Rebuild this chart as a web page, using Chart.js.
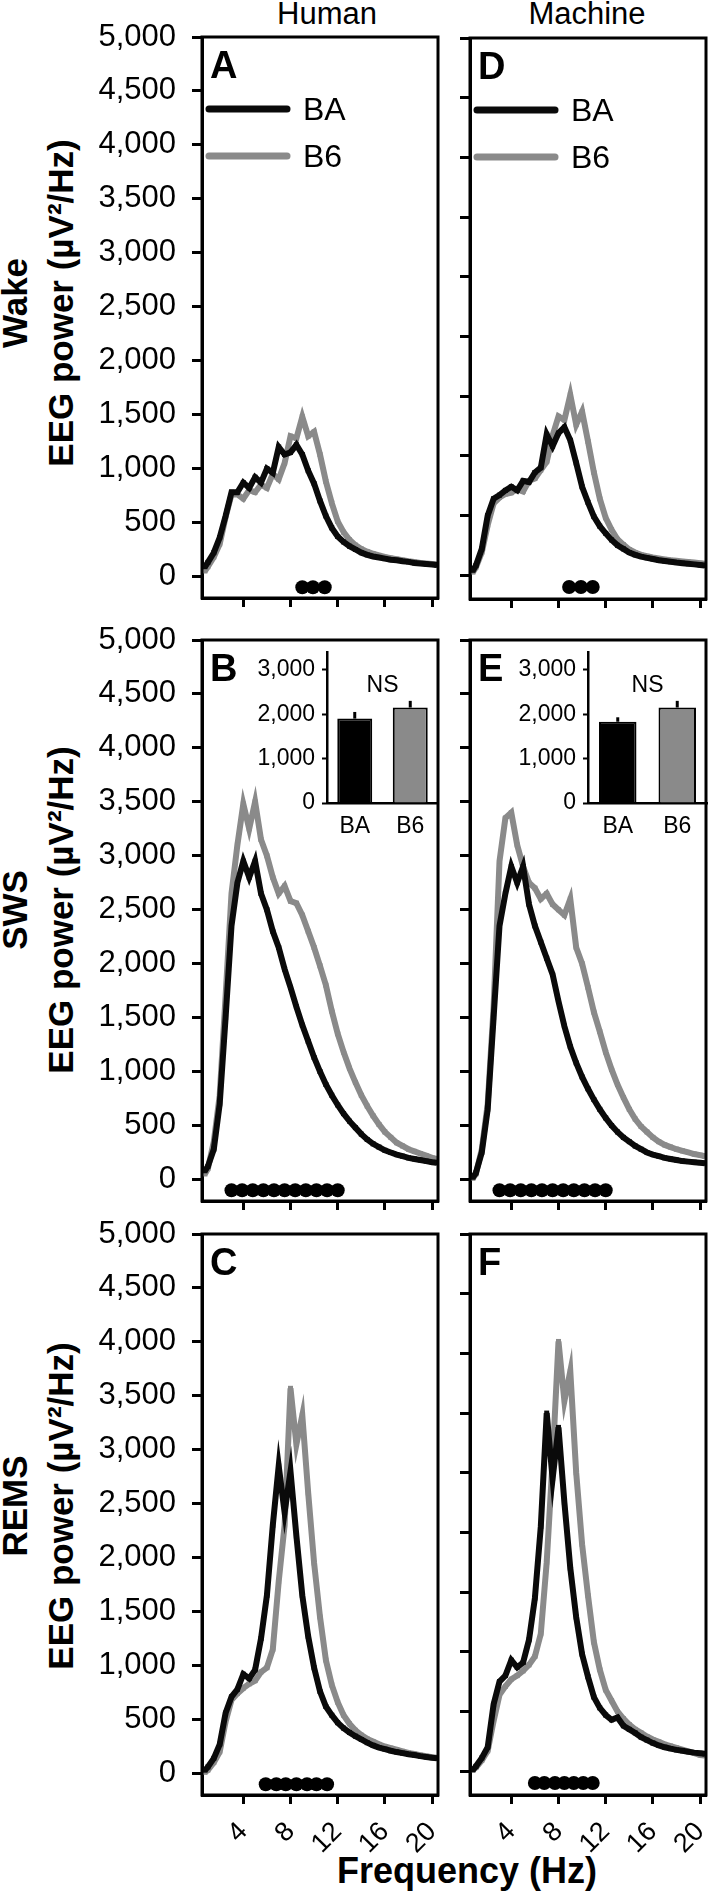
<!DOCTYPE html>
<html>
<head>
<meta charset="utf-8">
<title>EEG power spectra</title>
<script src="https://cdn.jsdelivr.net/npm/chart.js@4.4.1/dist/chart.umd.min.js"></script>
<style>
  html, body { margin: 0; padding: 0; background: #fff; }
  #fig { position: relative; width: 713px; height: 1895px; overflow: hidden; background: #fff;
         font-family: 'Liberation Sans', Arial, sans-serif; color: #000; }
  #fig canvas { position: absolute; }
  .txt { position: absolute; white-space: nowrap; line-height: 1; transform: translate(-50%, -50%); }
  .row { font-weight: bold; font-size: 35px; transform: translate(-50%, -50%) rotate(-90deg); }
</style>
</head>
<body>
<div id="fig">
  <div class="txt" style="left:327px; top:13px; font-size:31px;">Human</div>
  <div class="txt" style="left:587px; top:13px; font-size:31px;">Machine</div>
  <div class="txt row" style="left:14px; top:303px;">Wake</div>
  <div class="txt row" style="left:60px; top:303px;">EEG power (µV²/Hz)</div>
  <div class="txt row" style="left:14px; top:910px;">SWS</div>
  <div class="txt row" style="left:60px; top:910px;">EEG power (µV²/Hz)</div>
  <div class="txt row" style="left:14px; top:1506px;">REMS</div>
  <div class="txt row" style="left:60px; top:1506px;">EEG power (µV²/Hz)</div>
  <div class="txt" style="left:467px; top:1871px; font-size:36px; font-weight:bold;">Frequency (Hz)</div>
</div>
<script>
const FONT = "'Liberation Sans', Arial, sans-serif";
const BLACK = '#0a0a0a';
const GRAY = '#8a8a8a';

// frequency bins (Hz)
const freqs = [0.75, 1, 1.5, 2, 2.5, 3, 3.5, 4, 4.5, 5, 5.5, 6, 6.5, 7, 7.5, 8, 8.5, 9, 9.5, 10,
  10.5, 11, 11.5, 12, 12.5, 13, 13.5, 14, 14.5, 15, 15.5, 16, 16.5, 17, 17.5, 18, 18.5, 19, 19.5, 20, 20.4];

// Wake
const wakeHumanBA = [90, 130, 220, 360, 560, 780, 780, 870, 820, 920, 870, 1000, 960, 1200, 1130, 1150, 1220, 1130, 980, 860,
  700, 560, 450, 370, 320, 280, 250, 220, 200, 185, 175, 165, 155, 150, 140, 135, 125, 120, 115, 110, 105];
const wakeHumanB6 = [50, 90, 180, 300, 550, 760, 760, 720, 800, 780, 850, 820, 950, 900, 1050, 1300, 1280, 1480, 1300, 1340,
  1130, 880, 680, 510, 410, 340, 290, 255, 230, 210, 195, 180, 170, 160, 150, 140, 135, 125, 120, 115, 110];
const wakeMachineBA = [40, 80, 220, 500, 640, 670, 710, 740, 710, 790, 780, 860, 900, 1180, 1080, 1190, 1240, 1130, 940, 740,
  610, 490, 410, 350, 295, 250, 220, 190, 170, 155, 145, 135, 125, 118, 112, 105, 100, 95, 90, 85, 80];
const wakeMachineB6 = [25, 65, 190, 420, 600, 650, 680, 690, 720, 700, 790, 810, 880, 950, 1170, 1330, 1300, 1510, 1260, 1370,
  1120, 860, 640, 480, 380, 300, 255, 215, 190, 170, 158, 148, 140, 132, 125, 120, 115, 110, 105, 100, 95];

// SWS
const swsHumanBA = [80, 120, 280, 700, 1500, 2350, 2750, 2950, 2800, 2950, 2650, 2500, 2300, 2150, 1950, 1780, 1600, 1430, 1280, 1130,
  1000, 880, 780, 690, 610, 540, 480, 420, 370, 330, 300, 270, 250, 230, 215, 200, 190, 180, 170, 160, 155];
const swsHumanB6 = [50, 100, 350, 780, 1700, 2650, 3100, 3480, 3250, 3500, 3150, 3000, 2800, 2650, 2720, 2580, 2560, 2450, 2300, 2150,
  1980, 1800, 1560, 1350, 1180, 1030, 900, 780, 680, 590, 510, 440, 390, 340, 310, 280, 260, 240, 220, 200, 190];
const swsMachineBA = [20, 60, 250, 650, 1500, 2350, 2650, 2900, 2750, 2900, 2550, 2350, 2200, 2050, 1900, 1650, 1420, 1230, 1080, 950,
  840, 740, 650, 570, 500, 440, 390, 350, 310, 280, 250, 230, 215, 200, 190, 180, 170, 165, 160, 155, 150];
const swsMachineB6 = [10, 50, 280, 700, 1600, 2950, 3350, 3400, 3100, 2900, 2750, 2700, 2600, 2650, 2550, 2500, 2450, 2600, 2150, 2000,
  1780, 1550, 1370, 1180, 1020, 880, 760, 650, 560, 490, 440, 390, 350, 320, 300, 280, 265, 250, 235, 225, 215];

// REMS
const remsHumanBA = [30, 60, 140, 270, 560, 710, 780, 920, 880, 960, 1250, 1650, 2300, 2850, 2420, 2800, 2200, 1650, 1270, 980,
  760, 620, 540, 470, 420, 380, 345, 315, 285, 260, 240, 225, 210, 198, 188, 178, 170, 160, 152, 145, 140];
const remsHumanB6 = [10, 30, 100, 200, 480, 680, 740, 790, 830, 860, 940, 980, 1150, 1780, 2300, 3570, 3050, 3320, 2600, 1950,
  1450, 1050, 820, 660, 540, 460, 400, 355, 320, 295, 270, 250, 235, 220, 205, 190, 180, 170, 160, 150, 145];
const remsMachineBA = [10, 40, 110, 200, 560, 750, 800, 930, 870, 910, 1100, 1450, 2050, 3000, 2450, 2880, 2250, 1700, 1290, 980,
  790, 620, 530, 470, 430, 450, 380, 350, 320, 285, 260, 235, 215, 200, 188, 178, 170, 162, 155, 150, 145];
const remsMachineB6 = [10, 30, 90, 170, 420, 640, 710, 770, 800, 840, 890, 960, 1150, 1750, 2600, 3600, 3100, 3350, 2500, 1900,
  1470, 1080, 850, 680, 590, 500, 440, 390, 350, 320, 290, 265, 245, 225, 210, 195, 180, 165, 150, 135, 130];

// significant bins (Hz), drawn as dots below zero
const sigLevel = -100;
const wakeHumanSig = [9.0, 9.9, 10.9];
const wakeMachineSig = [8.9, 9.9, 10.9];
const swsHumanSig = [3.0, 3.9, 4.8, 5.7, 6.6, 7.5, 8.4, 9.3, 10.2, 11.1, 12.0];
const swsMachineSig = [3.0, 3.9, 4.8, 5.7, 6.6, 7.5, 8.4, 9.3, 10.2, 11.1, 12.0];
const remsHumanSig = [5.9, 6.8, 7.6, 8.5, 9.4, 10.2, 11.1];
const remsMachineSig = [6.0, 6.8, 7.7, 8.5, 9.3, 10.1, 10.9];

// insets: total SWS power
const strains = ['BA', 'B6'];
const swsHumanTotal = [1900, 2150];
const swsHumanTotalErr = [150, 150];
const swsMachineTotal = [1830, 2150];
const swsMachineTotalErr = [100, 150];

// tick labels
const powerTicks = [0, 500, 1000, 1500, 2000, 2500, 3000, 3500, 4000, 4500, 5000];
const machinePowerTicks = [0, 500, 1000, 1500, 2000, 2500, 3000, 3500, 4000, 4500];
const freqTicks = [4, 8, 12, 16, 20];
const insetTicks = [0, 1000, 2000, 3000];

const fig = document.getElementById('fig');

function addCanvas(x, y, w, h) {
  const cv = document.createElement('canvas');
  cv.width = w; cv.height = h;
  cv.style.left = x + 'px'; cv.style.top = y + 'px';
  fig.appendChild(cv);
  return cv;
}

// frame, panel letter and legend
const panelDecor = {
  id: 'panelDecor',
  afterDraw(chart, args, opts) {
    const { ctx, chartArea: a } = chart;
    ctx.save();
    ctx.strokeStyle = '#000';
    ctx.lineWidth = 3;
    ctx.strokeRect(a.left, a.top, a.right - a.left, a.bottom - a.top);
    ctx.fillStyle = '#000';
    ctx.textAlign = 'left';
    ctx.textBaseline = 'alphabetic';
    ctx.font = 'bold 38px ' + FONT;
    ctx.fillText(opts.letter, a.left + 8, a.top + 41);
    if (opts.legend) {
      chart.data.datasets.slice(0, 2).forEach((ds, i) => {
        const y = a.top + 72 + i * 47;
        ctx.strokeStyle = ds.borderColor;
        ctx.lineWidth = 7;
        ctx.lineCap = 'round';
        ctx.beginPath();
        ctx.moveTo(a.left + 7, y);
        ctx.lineTo(a.left + 85, y);
        ctx.stroke();
        ctx.font = '32px ' + FONT;
        ctx.fillText(ds.label, a.left + 101, y + 11);
      });
    }
    ctx.restore();
  }
};

function panel(p) {
  const cv = addCanvas(p.x, p.y, p.w, p.h);
  const curve = vals => freqs.map((f, i) => ({ x: f, y: vals[i] }));
  const line = (label, vals, color) => ({
    label, data: curve(vals), borderColor: color, backgroundColor: color,
    borderWidth: 6, tension: 0, pointStyle: 'rect', pointRadius: 3.5, pointBorderWidth: 0,
    pointBackgroundColor: color
  });
  new Chart(cv, {
    type: 'line',
    data: {
      datasets: [
        line('BA', p.ba, BLACK),
        line('B6', p.b6, GRAY),
        {
          label: 'sig', data: p.sig.map(f => ({ x: f, y: sigLevel })), showLine: false,
          pointRadius: 7, pointBackgroundColor: '#000', pointBorderWidth: 0
        }
      ]
    },
    options: {
      responsive: false, animation: false, devicePixelRatio: 1, locale: 'en-US',
      layout: { padding: { top: p.padTop, right: p.padRight, left: 0, bottom: 0 } },
      plugins: {
        legend: { display: false }, tooltip: { enabled: false },
        panelDecor: { letter: p.letter, legend: p.legend }
      },
      scales: {
        x: {
          type: 'linear', min: 0.5, max: 20.5,
          afterBuildTicks: s => { s.ticks = freqTicks.map(v => ({ value: v })); },
          afterFit: s => { s.height = p.xh; s.paddingLeft = 0; s.paddingRight = 0; },
          border: { color: '#000', width: 3 },
          grid: { drawOnChartArea: false, tickLength: 9, tickWidth: 3, tickColor: '#000' },
          ticks: { display: p.xLabels, color: '#000', font: { family: FONT, size: 27 },
                   minRotation: 45, maxRotation: 45, padding: 12 }
        },
        y: {
          min: -200, max: p.ymax,
          afterBuildTicks: s => { s.ticks = p.yticks.map(v => ({ value: v })); },
          afterFit: s => { s.width = p.yw; s.paddingTop = 0; s.paddingBottom = 0; },
          border: { color: '#000', width: 3 },
          grid: { drawOnChartArea: false, tickLength: 10, tickWidth: 3, tickColor: '#000' },
          ticks: { display: p.yLabels, color: '#000', font: { family: FONT, size: 31 }, padding: 16,
                   callback: v => v.toLocaleString('en-US') }
        }
      }
    },
    plugins: [panelDecor]
  });
}

// error bars and "NS" for the insets
const errorBars = {
  id: 'errorBars',
  afterDatasetsDraw(chart, args, opts) {
    const { ctx } = chart;
    const y = chart.scales.y;
    const meta = chart.getDatasetMeta(0);
    const vals = chart.data.datasets[0].data;
    ctx.save();
    ctx.strokeStyle = '#000';
    ctx.lineWidth = 3;
    meta.data.forEach((bar, i) => {
      ctx.beginPath();
      ctx.moveTo(bar.x, bar.y);
      ctx.lineTo(bar.x, y.getPixelForValue(vals[i] + opts.errors[i]));
      ctx.stroke();
    });
    ctx.fillStyle = '#000';
    ctx.font = '23px ' + FONT;
    ctx.textAlign = 'center';
    ctx.textBaseline = 'middle';
    ctx.fillText(opts.note, (meta.data[0].x + meta.data[1].x) / 2, y.getPixelForValue(opts.noteAt));
    ctx.restore();
  }
};

function inset(p) {
  const cv = addCanvas(p.x, p.y, p.w, p.h);
  new Chart(cv, {
    type: 'bar',
    data: {
      labels: strains,
      datasets: [{
        data: p.means, backgroundColor: ['#000', GRAY], borderColor: '#000', borderWidth: 2,
        barPercentage: 0.63, categoryPercentage: 1
      }]
    },
    options: {
      responsive: false, animation: false, devicePixelRatio: 1, locale: 'en-US',
      layout: { padding: { top: 12, right: 3, left: 0, bottom: 0 } },
      plugins: {
        legend: { display: false }, tooltip: { enabled: false },
        errorBars: { errors: p.errs, note: 'NS', noteAt: 2650 }
      },
      scales: {
        x: {
          afterFit: s => { s.height = 42; s.paddingLeft = 0; s.paddingRight = 0; },
          border: { color: '#000', width: 2.5 },
          grid: { drawOnChartArea: false, drawTicks: false },
          ticks: { color: '#000', font: { family: FONT, size: 23 }, padding: 10, maxRotation: 0 }
        },
        y: {
          min: 0, max: 3400,
          afterBuildTicks: s => { s.ticks = insetTicks.map(v => ({ value: v })); },
          afterFit: s => { s.width = 77; s.paddingTop = 0; s.paddingBottom = 0; },
          border: { color: '#000', width: 2.5 },
          grid: { drawOnChartArea: false, tickLength: 5, tickWidth: 2, tickColor: '#000' },
          ticks: { color: '#000', font: { family: FONT, size: 23 }, padding: 7,
                   callback: v => v.toLocaleString('en-US') }
        }
      }
    },
    plugins: [errorBars]
  });
}

const LEFT = { x: 0, w: 445, yw: 202, padRight: 6, yLabels: true };
const RIGHT = { x: 445, w: 268, yw: 25, padRight: 5, yLabels: false };

panel({ ...LEFT, y: 0, h: 620, padTop: 37, xh: 22, ymax: 5000, yticks: powerTicks, xLabels: false,
        letter: 'A', legend: true, ba: wakeHumanBA, b6: wakeHumanB6, sig: wakeHumanSig });
panel({ ...RIGHT, y: 0, h: 620, padTop: 38, xh: 21, ymax: 4500, yticks: machinePowerTicks, xLabels: false,
        letter: 'D', legend: true, ba: wakeMachineBA, b6: wakeMachineB6, sig: wakeMachineSig });
panel({ ...LEFT, y: 620, h: 602, padTop: 20, xh: 21, ymax: 5000, yticks: powerTicks, xLabels: false,
        letter: 'B', legend: false, ba: swsHumanBA, b6: swsHumanB6, sig: swsHumanSig });
panel({ ...RIGHT, y: 620, h: 602, padTop: 20, xh: 21, ymax: 5000, yticks: powerTicks, xLabels: false,
        letter: 'E', legend: false, ba: swsMachineBA, b6: swsMachineB6, sig: swsMachineSig });
panel({ ...LEFT, y: 1221, h: 674, padTop: 13, xh: 100, ymax: 5000, yticks: powerTicks, xLabels: true,
        letter: 'C', legend: false, ba: remsHumanBA, b6: remsHumanB6, sig: remsHumanSig });
panel({ ...RIGHT, y: 1221, h: 674, padTop: 13, xh: 100, ymax: 4500, yticks: machinePowerTicks, xLabels: true,
        letter: 'F', legend: false, ba: remsMachineBA, b6: remsMachineB6, sig: remsMachineSig });

inset({ x: 250, y: 640, w: 191, h: 205, means: swsHumanTotal, errs: swsHumanTotalErr });
inset({ x: 511, y: 640, w: 199, h: 205, means: swsMachineTotal, errs: swsMachineTotalErr });
</script>
</body>
</html>
